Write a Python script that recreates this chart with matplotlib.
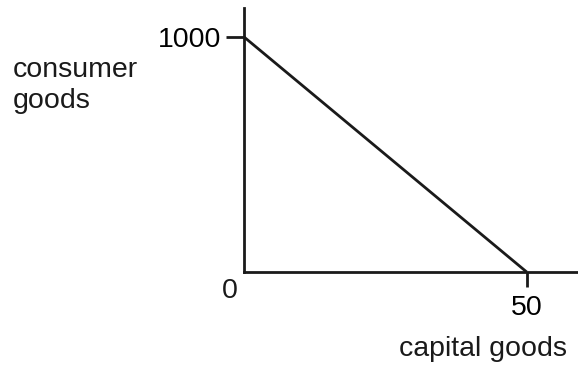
import matplotlib.pyplot as plt

plt.rcParams['font.family'] = ['Liberation Sans', 'DejaVu Sans']

# production possibility frontier
capital_goods = [0, 50]
consumer_goods = [1000, 0]
x_ticks = [50]
y_ticks = [1000]

W, H = 578, 365
fig = plt.figure(figsize=(W / 100, H / 100), dpi=100)

# axes box in pixels (from top-left)
left, right, top, bottom = 243.7, 578, 8, 272
ax = fig.add_axes([left / W, 1 - bottom / H, (right - left) / W, (bottom - top) / H])

ax.plot(capital_goods, consumer_goods, color="#1a1a1a", lw=2.0, solid_capstyle="butt")

# x: 0 at 243.7px, 50 at 526.7px ; y: 0 at 272px, 1000 at 36.7px
xpx = (526.7 - left) / 50
ypx = (bottom - 36.7) / 1000
ax.set_xlim(0, (right - left) / xpx)
ax.set_ylim(0, (bottom - top) / ypx)

for s in ["top", "right"]:
    ax.spines[s].set_visible(False)
for s in ["left", "bottom"]:
    ax.spines[s].set_linewidth(2.0)
    ax.spines[s].set_color("#1a1a1a")

ax.set_xticks(x_ticks)
ax.set_yticks(y_ticks)
ax.tick_params(axis="y", length=12.7, width=2.0, color="#1a1a1a", labelsize=20.5, pad=3.5)
ax.tick_params(axis="x", length=10.6, width=2.0, color="#1a1a1a", labelsize=20.5, pad=6)

def fy(y):
    return 1 - y / H

fig.text(230 / W, fy(298), "0", ha="center", va="baseline", fontsize=20.5, color="#1a1a1a")
fig.text(483 / W, fy(356), "capital goods", ha="center", va="baseline", fontsize=20.5, color="#1a1a1a")
fig.text(13 / W, fy(77), "consumer", ha="left", va="baseline", fontsize=20.5, color="#1a1a1a")
fig.text(13 / W, fy(108), "goods", ha="left", va="baseline", fontsize=20.5, color="#1a1a1a")

fig.savefig("out.png", dpi=100)
